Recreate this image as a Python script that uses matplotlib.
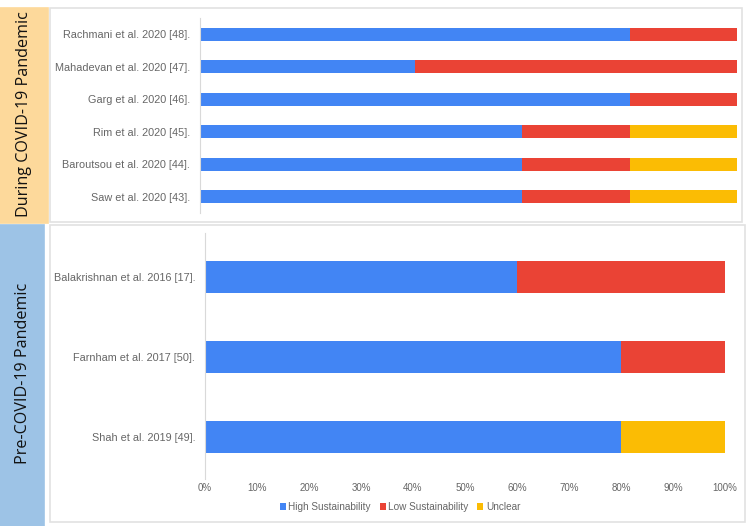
import matplotlib
matplotlib.use('Agg')
import matplotlib.pyplot as plt
from matplotlib.patches import Rectangle

# 数据
during_studies = ['Rachmani et al. 2020 [48].', 'Mahadevan et al. 2020 [47].', 'Garg et al. 2020 [46].',
                  'Rim et al. 2020 [45].', 'Baroutsou et al. 2020 [44].', 'Saw et al. 2020 [43].']
during_high = [80, 40, 80, 60, 60, 60]
during_low = [20, 60, 20, 20, 20, 20]
during_unclear = [0, 0, 0, 20, 20, 20]

pre_studies = ['Balakrishnan et al. 2016 [17].', 'Farnham et al. 2017 [50].', 'Shah et al. 2019 [49].']
pre_high = [60, 80, 80]
pre_low = [40, 20, 0]
pre_unclear = [0, 0, 20]

series_names = ['High Sustainability', 'Low Sustainability', 'Unclear']
colors = ['#4285F4', '#EA4335', '#FBBC04']

W, H = 750, 526
fig = plt.figure(figsize=(7.5, 5.26), dpi=100)
fig.patch.set_facecolor('white')


def px_rect(x0, y0, x1, y1):
    # 像素坐标 -> figure 坐标
    return [x0 / W, 1 - y1 / H, (x1 - x0) / W, (y1 - y0) / H]


def draw_box(x0, y0, x1, y1, fc, ec=None):
    r = px_rect(x0, y0, x1, y1)
    fig.patches.append(Rectangle((r[0], r[1]), r[2], r[3], transform=fig.transFigure,
                                 facecolor=fc, edgecolor=ec if ec else fc, linewidth=1.2, zorder=-5))


# 左侧色带和白色面板
draw_box(0, 8, 48, 223, '#FDD99B')
draw_box(0, 225, 44, 526, '#9DC3E6')
draw_box(50, 8, 742, 222, 'white', '#E2E2E2')
draw_box(50, 225, 745, 522, 'white', '#E2E2E2')

fig.text(24 / W, 1 - 114 / H, 'During COVID-19 Pandemic', rotation=90, ha='center', va='center',
         fontsize=11.6, family='Open Sans', color='#111111')
fig.text(23 / W, 1 - 373 / H, 'Pre-COVID-19 Pandemic', rotation=90, ha='center', va='center',
         fontsize=11.6, family='Open Sans', color='#111111')


def stacked(ax, labels, high, low, unclear):
    y = list(range(len(labels)))
    left = [0] * len(labels)
    for vals, c, name in zip([high, low, unclear], colors, series_names):
        ax.barh(y, vals, left=left, height=0.4, color=c, label=name)
        left = [a + b for a, b in zip(left, vals)]
    ax.set_yticks(y)
    ax.set_yticklabels(labels, family='Liberation Sans', fontsize=7.8, color='#666666')
    ax.set_xlim(0, 100)
    ax.set_ylim(len(labels) - 0.5, -0.5)
    ax.patch.set_alpha(0)
    for s in ['top', 'right', 'bottom']:
        ax.spines[s].set_visible(False)
    ax.spines['left'].set_color('#D9D9D9')
    ax.tick_params(axis='y', length=0, pad=7)


ax1 = fig.add_axes(px_rect(200, 18, 737, 213))
stacked(ax1, during_studies, during_high, during_low, during_unclear)
ax1.set_xticks([])

ax2 = fig.add_axes(px_rect(205, 237, 725, 477))
stacked(ax2, pre_studies, pre_high, pre_low, pre_unclear)
ax2.spines['left'].set_bounds(2.52, -0.55)
ax2.set_xticks(range(0, 101, 10))
ax2.set_xticklabels([f'{v}%' for v in range(0, 101, 10)], family='Liberation Sans',
                    fontsize=7, color='#666666', stretch='condensed')
ax2.tick_params(axis='x', length=0, pad=4)

fig.legend(*ax2.get_legend_handles_labels(), loc='center', bbox_to_anchor=(400 / W, 1 - 507 / H),
           ncol=3, frameon=False, prop={'family': 'Liberation Sans', 'size': 7.2}, labelcolor='#666666',
           handlelength=0.6, handleheight=0.6, handletextpad=0.25, columnspacing=0.9)

fig.savefig('out.png', dpi=100)
